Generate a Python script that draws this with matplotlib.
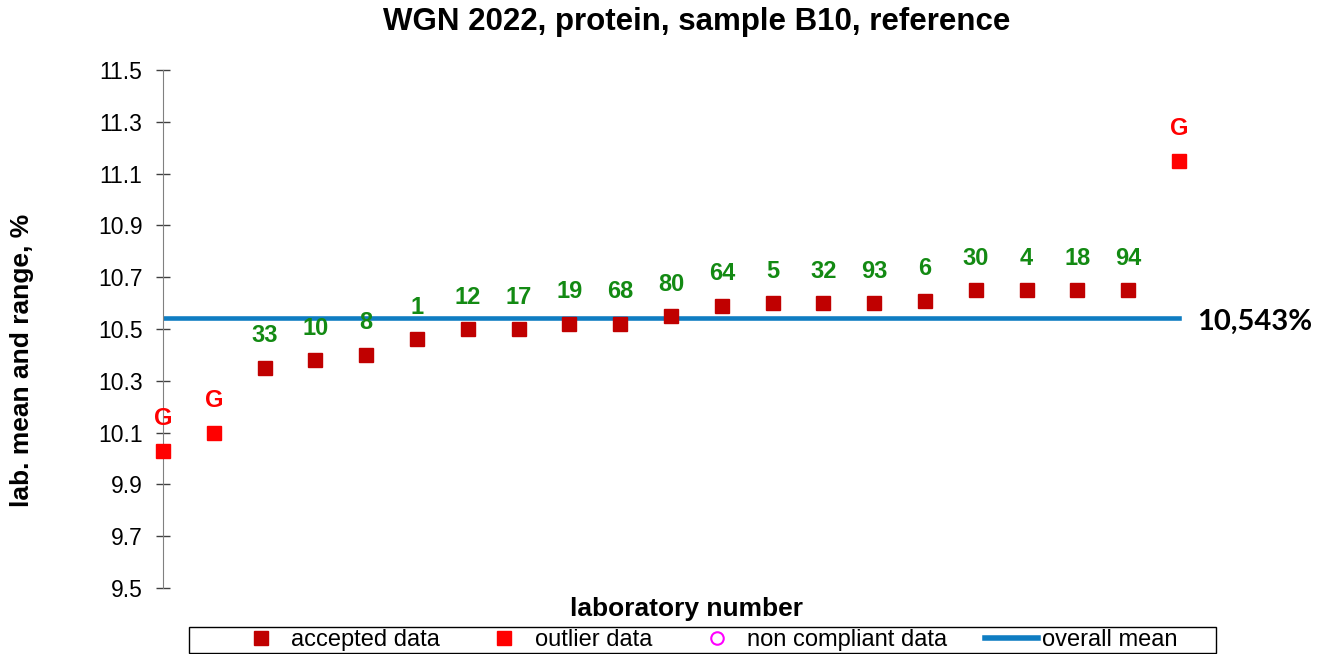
import matplotlib
matplotlib.use('Agg')
import matplotlib.pyplot as plt
from matplotlib.lines import Line2D
from matplotlib.patches import Rectangle

plt.rcParams['font.family'] = ['Liberation Sans', 'DejaVu Sans']

# data
labs = ['G', 'G', '33', '10', '8', '1', '12', '17', '19', '68', '80',
        '64', '5', '32', '93', '6', '30', '4', '18', '94', 'G']
values = [10.03, 10.10, 10.35, 10.38, 10.40, 10.46, 10.50, 10.50, 10.52, 10.52, 10.55,
          10.59, 10.60, 10.60, 10.60, 10.61, 10.65, 10.65, 10.65, 10.65, 11.15]
outlier = [True, True] + [False] * 18 + [True]
overall_mean = 10.543
yticks = [9.5, 9.7, 9.9, 10.1, 10.3, 10.5, 10.7, 10.9, 11.1, 11.3, 11.5]

acc_col = '#C00000'
out_col = '#FF0000'
lab_col = '#138A13'
mean_col = '#0F7DC2'

W, H = 1317, 654
fig = plt.figure(figsize=(W / 100, H / 100), dpi=100)
ax = fig.add_axes([163 / W, 1 - 588 / H, (1195 - 163) / W, (588 - 70) / H])

pos = list(range(1, len(values) + 1))
ax.plot([1, len(values)], [overall_mean, overall_mean], color=mean_col, lw=3.3, zorder=1)

for x, v, lab, o in zip(pos, values, labs, outlier):
    c = out_col if o else acc_col
    ax.plot(x, v, 's', color=c, markersize=10, zorder=3, clip_on=False)
    ax.annotate(lab, (x, v), xytext=(0, 23), textcoords='offset points',
                ha='center', va='center', fontsize=17, fontweight='bold',
                color=out_col if o else lab_col, annotation_clip=False)

fig.text(1197 / W, 1 - 322 / H, '10,543%', ha='left', va='center',
         fontsize=21, fontweight='bold', family=['Lato', 'DejaVu Sans'])

ax.set_xlim(1, 1 + (1195 - 163) / 50.8)
ax.set_ylim(9.5, 11.5)
ax.set_yticks(yticks)
ax.set_yticklabels(['%.1f' % t for t in yticks], fontsize=16.5)
ax.set_xticks([])
for s in ['top', 'right', 'bottom']:
    ax.spines[s].set_visible(False)
ax.spines['left'].set_color('#808080')
ax.tick_params(axis='y', direction='inout', length=9.5, color='#404040', width=1, pad=10)

fig.text(697 / W, 1 - 22 / H, 'WGN 2022, protein, sample B10, reference', ha='center', va='center',
         fontsize=22.5, fontweight='bold')
fig.text(686 / W, 1 - 609 / H, 'laboratory number', ha='center', va='center',
         fontsize=19, fontweight='bold')
fig.text(22 / W, 1 - 360 / H, 'lab. mean and range, %', ha='center', va='center',
         fontsize=19, fontweight='bold', rotation=90)

# legend frame
fig.patches.append(Rectangle((189 / W, 1 - 653 / H), (1216 - 189) / W, 26 / H,
                             transform=fig.transFigure, fill=False, edgecolor='black', lw=1))
handles = [Line2D([], [], ls='none', marker='s', color=acc_col, markersize=10),
           Line2D([], [], ls='none', marker='s', color=out_col, markersize=10),
           Line2D([], [], ls='none', marker='o', markerfacecolor='none',
                  markeredgecolor='#FF00FF', markeredgewidth=1.5, markersize=9),
           Line2D([], [], color=mean_col, lw=4)]
names = ['accepted data', 'outlier data', 'non compliant data', 'overall mean']
leg = fig.legend(handles, names, ncol=4, loc='center',
                 bbox_to_anchor=(706 / W, 1 - 640 / H),
                 frameon=False, fontsize=17, borderpad=0,
                 handlelength=2.25, handletextpad=0.17, columnspacing=1.6, borderaxespad=0)

fig.savefig('out.png', dpi=100)
